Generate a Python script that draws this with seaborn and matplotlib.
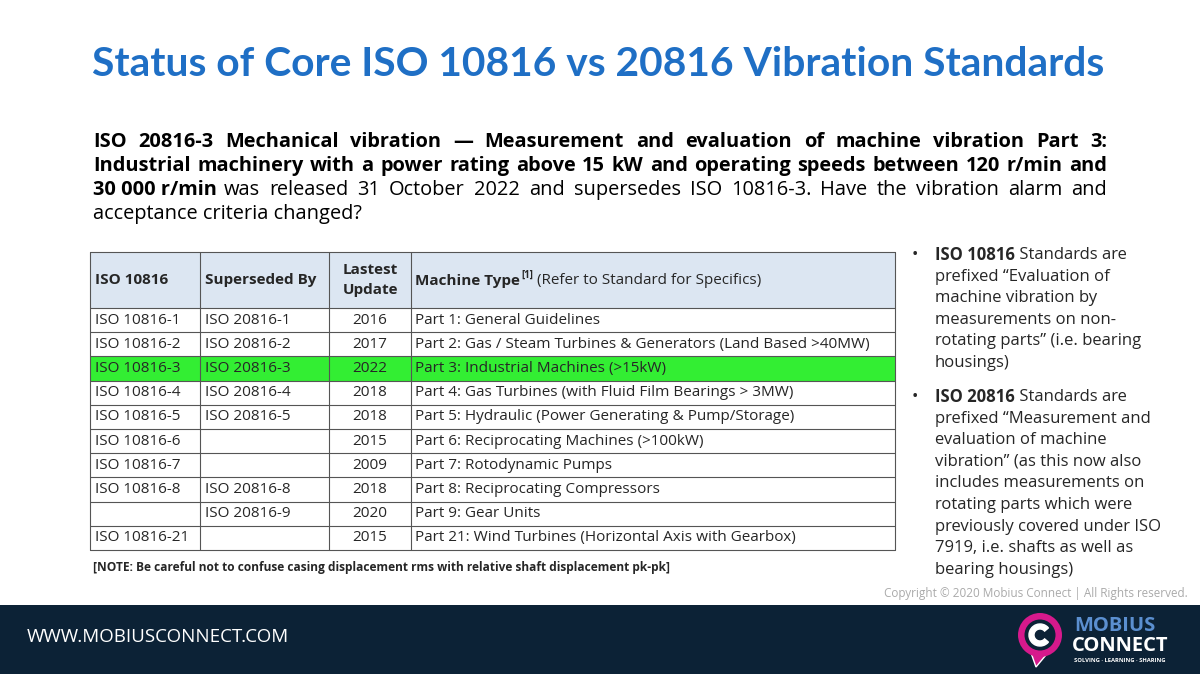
import matplotlib
matplotlib.use('Agg')
import matplotlib.pyplot as plt
import seaborn as sns
from matplotlib.patches import Rectangle, Circle, Wedge, Polygon

# ── slide content ────────────────────────────────────────────────────────────
TITLE = 'Status of Core ISO 10816 vs 20816 Vibration Standards'
INTRO_BOLD = ['ISO 20816-3 Mechanical vibration — Measurement and evaluation of machine vibration Part 3:',
              'Industrial machinery with a power rating above 15 kW and operating speeds between 120 r/min and',
              '30 000 r/min']
INTRO_REST = [' was released 31 October 2022 and supersedes ISO 10816-3. Have the vibration alarm and',
              'acceptance criteria changed?']

HEADERS = ['ISO 10816', 'Superseded By', 'Lastest\nUpdate', 'Machine Type']
ISO_10816 = ['ISO 10816-1', 'ISO 10816-2', 'ISO 10816-3', 'ISO 10816-4', 'ISO 10816-5',
             'ISO 10816-6', 'ISO 10816-7', 'ISO 10816-8', '', 'ISO 10816-21']
SUPERSEDED = ['ISO 20816-1', 'ISO 20816-2', 'ISO 20816-3', 'ISO 20816-4', 'ISO 20816-5',
              '', '', 'ISO 20816-8', 'ISO 20816-9', '']
UPDATED = [2016, 2017, 2022, 2018, 2018, 2015, 2009, 2018, 2020, 2015]
MACHINE = ['Part 1: General Guidelines',
           'Part 2: Gas / Steam Turbines & Generators (Land Based >40MW)',
           'Part 3: Industrial Machines (>15kW)',
           'Part 4: Gas Turbines (with Fluid Film Bearings > 3MW)',
           'Part 5: Hydraulic (Power Generating & Pump/Storage)',
           'Part 6: Reciprocating Machines (>100kW)',
           'Part 7: Rotodynamic Pumps',
           'Part 8: Reciprocating Compressors',
           'Part 9: Gear Units',
           'Part 21: Wind Turbines (Horizontal Axis with Gearbox)']
HIGHLIGHT = 'ISO 10816-3'
NOTE = '[NOTE: Be careful not to confuse casing displacement rms with relative shaft displacement pk-pk]'

BULLET_1 = [('ISO 10816', ' Standards are'), ('', 'prefixed “Evaluation of'), ('', 'machine vibration by'),
            ('', 'measurements on non-'), ('', 'rotating parts” (i.e. bearing'), ('', 'housings)')]
BULLET_2 = [('ISO 20816', ' Standards are'), ('', 'prefixed “Measurement and'), ('', 'evaluation of machine'),
            ('', 'vibration” (as this now also'), ('', 'includes measurements on'),
            ('', 'rotating parts which were'), ('', 'previously covered under ISO'),
            ('', '7919, i.e. shafts as well as'), ('', 'bearing housings)')]

FONT = 'Open Sans'
sns.set_theme(style='white', rc={'font.family': 'sans-serif',
                                 'font.sans-serif': [FONT, 'DejaVu Sans']})

fig = plt.figure(figsize=(12, 6.74), dpi=100)
ax = fig.add_axes([0, 0, 1, 1])
ax.set_xlim(0, 1200)
ax.set_ylim(674, 0)
ax.axis('off')


def right_edge(t):
    fig.canvas.draw()
    return ax.transData.inverted().transform((t.get_window_extent().x1, 0))[0]


def justified(words_line, y, x0, x1, **kw):
    """Place words so the line spans x0..x1."""
    words = words_line.split(' ')
    widths = []
    for w in words:
        t = ax.text(0, y, w, va='center', **kw)
        widths.append(right_edge(t))
        t.remove()
    gap = (x1 - x0 - sum(widths)) / (len(words) - 1)
    x = x0
    for w, wd in zip(words, widths):
        ax.text(x, y, w, va='center', **kw)
        x += wd + gap


# title
ax.text(598, 65, TITLE, ha='center', va='center', fontsize=29.3, fontweight='bold',
        color='#1F6FC5', fontfamily='Lato')

# intro paragraph
FS = 14.4
y = 142
for line in INTRO_BOLD[:2]:
    justified(line, y, 93, 1107, fontsize=FS, fontweight='bold', color='black')
    y += 24
t = ax.text(93, y, INTRO_BOLD[2], fontsize=FS, fontweight='bold', va='center', color='black')
x_end = right_edge(t)
justified(INTRO_REST[0].strip(), y, x_end + 7, 1107, fontsize=FS, color='black')
ax.text(93, y + 24, INTRO_REST[1], fontsize=FS, va='center', color='black')

# table
cols = [90, 200, 329, 411, 895]
top, head_bot, row_h = 252, 308, 24.2
n = len(ISO_10816)
ax.add_patch(Rectangle((cols[0], top), cols[-1] - cols[0], head_bot - top,
                       facecolor='#DCE6F2', edgecolor='none'))
for i, iso in enumerate(ISO_10816):
    y0 = head_bot + i * row_h
    if iso == HIGHLIGHT:
        ax.add_patch(Rectangle((cols[0], y0), cols[-1] - cols[0], row_h,
                               facecolor='#33EE33', edgecolor='none'))
    yc = y0 + row_h / 2
    ax.text(cols[0] + 5, yc, iso, fontsize=11, va='center')
    ax.text(cols[1] + 5, yc, SUPERSEDED[i], fontsize=11, va='center')
    ax.text((cols[2] + cols[3]) / 2, yc, str(UPDATED[i]), fontsize=11, va='center', ha='center')
    ax.text(cols[3] + 4, yc, MACHINE[i], fontsize=11, va='center')
bottom = head_bot + n * row_h
for k in range(n + 1):
    yy = head_bot + k * row_h
    ax.plot([cols[0], cols[-1]], [yy, yy], color='#555555', lw=0.8)
ax.plot([cols[0], cols[-1]], [top, top], color='#555555', lw=0.8)
for xx in cols:
    ax.plot([xx, xx], [top, bottom], color='#555555', lw=0.8)
hy = (top + head_bot) / 2
ax.text(cols[0] + 5, hy, HEADERS[0], fontsize=11, va='center', fontweight='bold')
ax.text(cols[1] + 5, hy, HEADERS[1], fontsize=11, va='center', fontweight='bold')
ax.text((cols[2] + cols[3]) / 2, hy, HEADERS[2], fontsize=11, va='center', ha='center',
        fontweight='bold', linespacing=1.5)
t = ax.text(cols[3] + 4, hy + 1, HEADERS[3], fontsize=11, va='center', fontweight='bold')
xe = right_edge(t)
t = ax.text(xe + 1, hy - 5, '[1]', fontsize=7, va='center', fontweight='bold')
xe = right_edge(t)
ax.text(xe, hy + 1, ' (Refer to Standard for Specifics)', fontsize=11, va='center')
ax.text(93, 567, NOTE, fontsize=8.6, fontweight='bold', va='center')


# bullets on the right
def bullet_block(lines, y):
    ax.text(912, y, '•', fontsize=12, va='center')
    for bold, rest in lines:
        if bold:
            t = ax.text(935, y, bold, fontsize=12, fontweight='bold', va='center')
            ax.text(right_edge(t), y, rest, fontsize=12, va='center')
        else:
            ax.text(935, y, rest, fontsize=12, va='center')
        y += 21.6
    return y


bullet_block(BULLET_1, 255)
bullet_block(BULLET_2, 397)

ax.text(1188, 594, 'Copyright © 2020 Mobius Connect | All Rights reserved.', fontsize=8.5,
        color='#AAAAAA', ha='right', va='center')

# footer band + logo
ax.add_patch(Rectangle((0, 605), 1200, 69, facecolor='#0C2236', edgecolor='none'))
ax.text(27, 637, 'WWW.MOBIUSCONNECT.COM', fontsize=13.5, color='white', va='center')
ax.add_patch(Polygon([[1030, 650], [1036, 667], [1046, 655]], closed=True, facecolor='#D6198C'))
ax.add_patch(Circle((1040, 635), 22, facecolor='#D6198C', edgecolor='none'))
ax.add_patch(Circle((1040, 635), 15.5, facecolor='#0C2236', edgecolor='none'))
ax.add_patch(Wedge((1040, 635), 11, 40, 320, width=5, facecolor='white'))
ax.text(1074, 626, 'MOBIUS', fontsize=14.5, fontweight='bold', color='#5B8FD0', va='center')
ax.text(1072, 646, 'CONNECT', fontsize=14.5, fontweight='bold', color='white', va='center')
ax.text(1074, 661, 'SOLVING · LEARNING · SHARING', fontsize=4.2, fontweight='bold',
        color='white', va='center')

fig.savefig('out.png', dpi=100, facecolor='white')
